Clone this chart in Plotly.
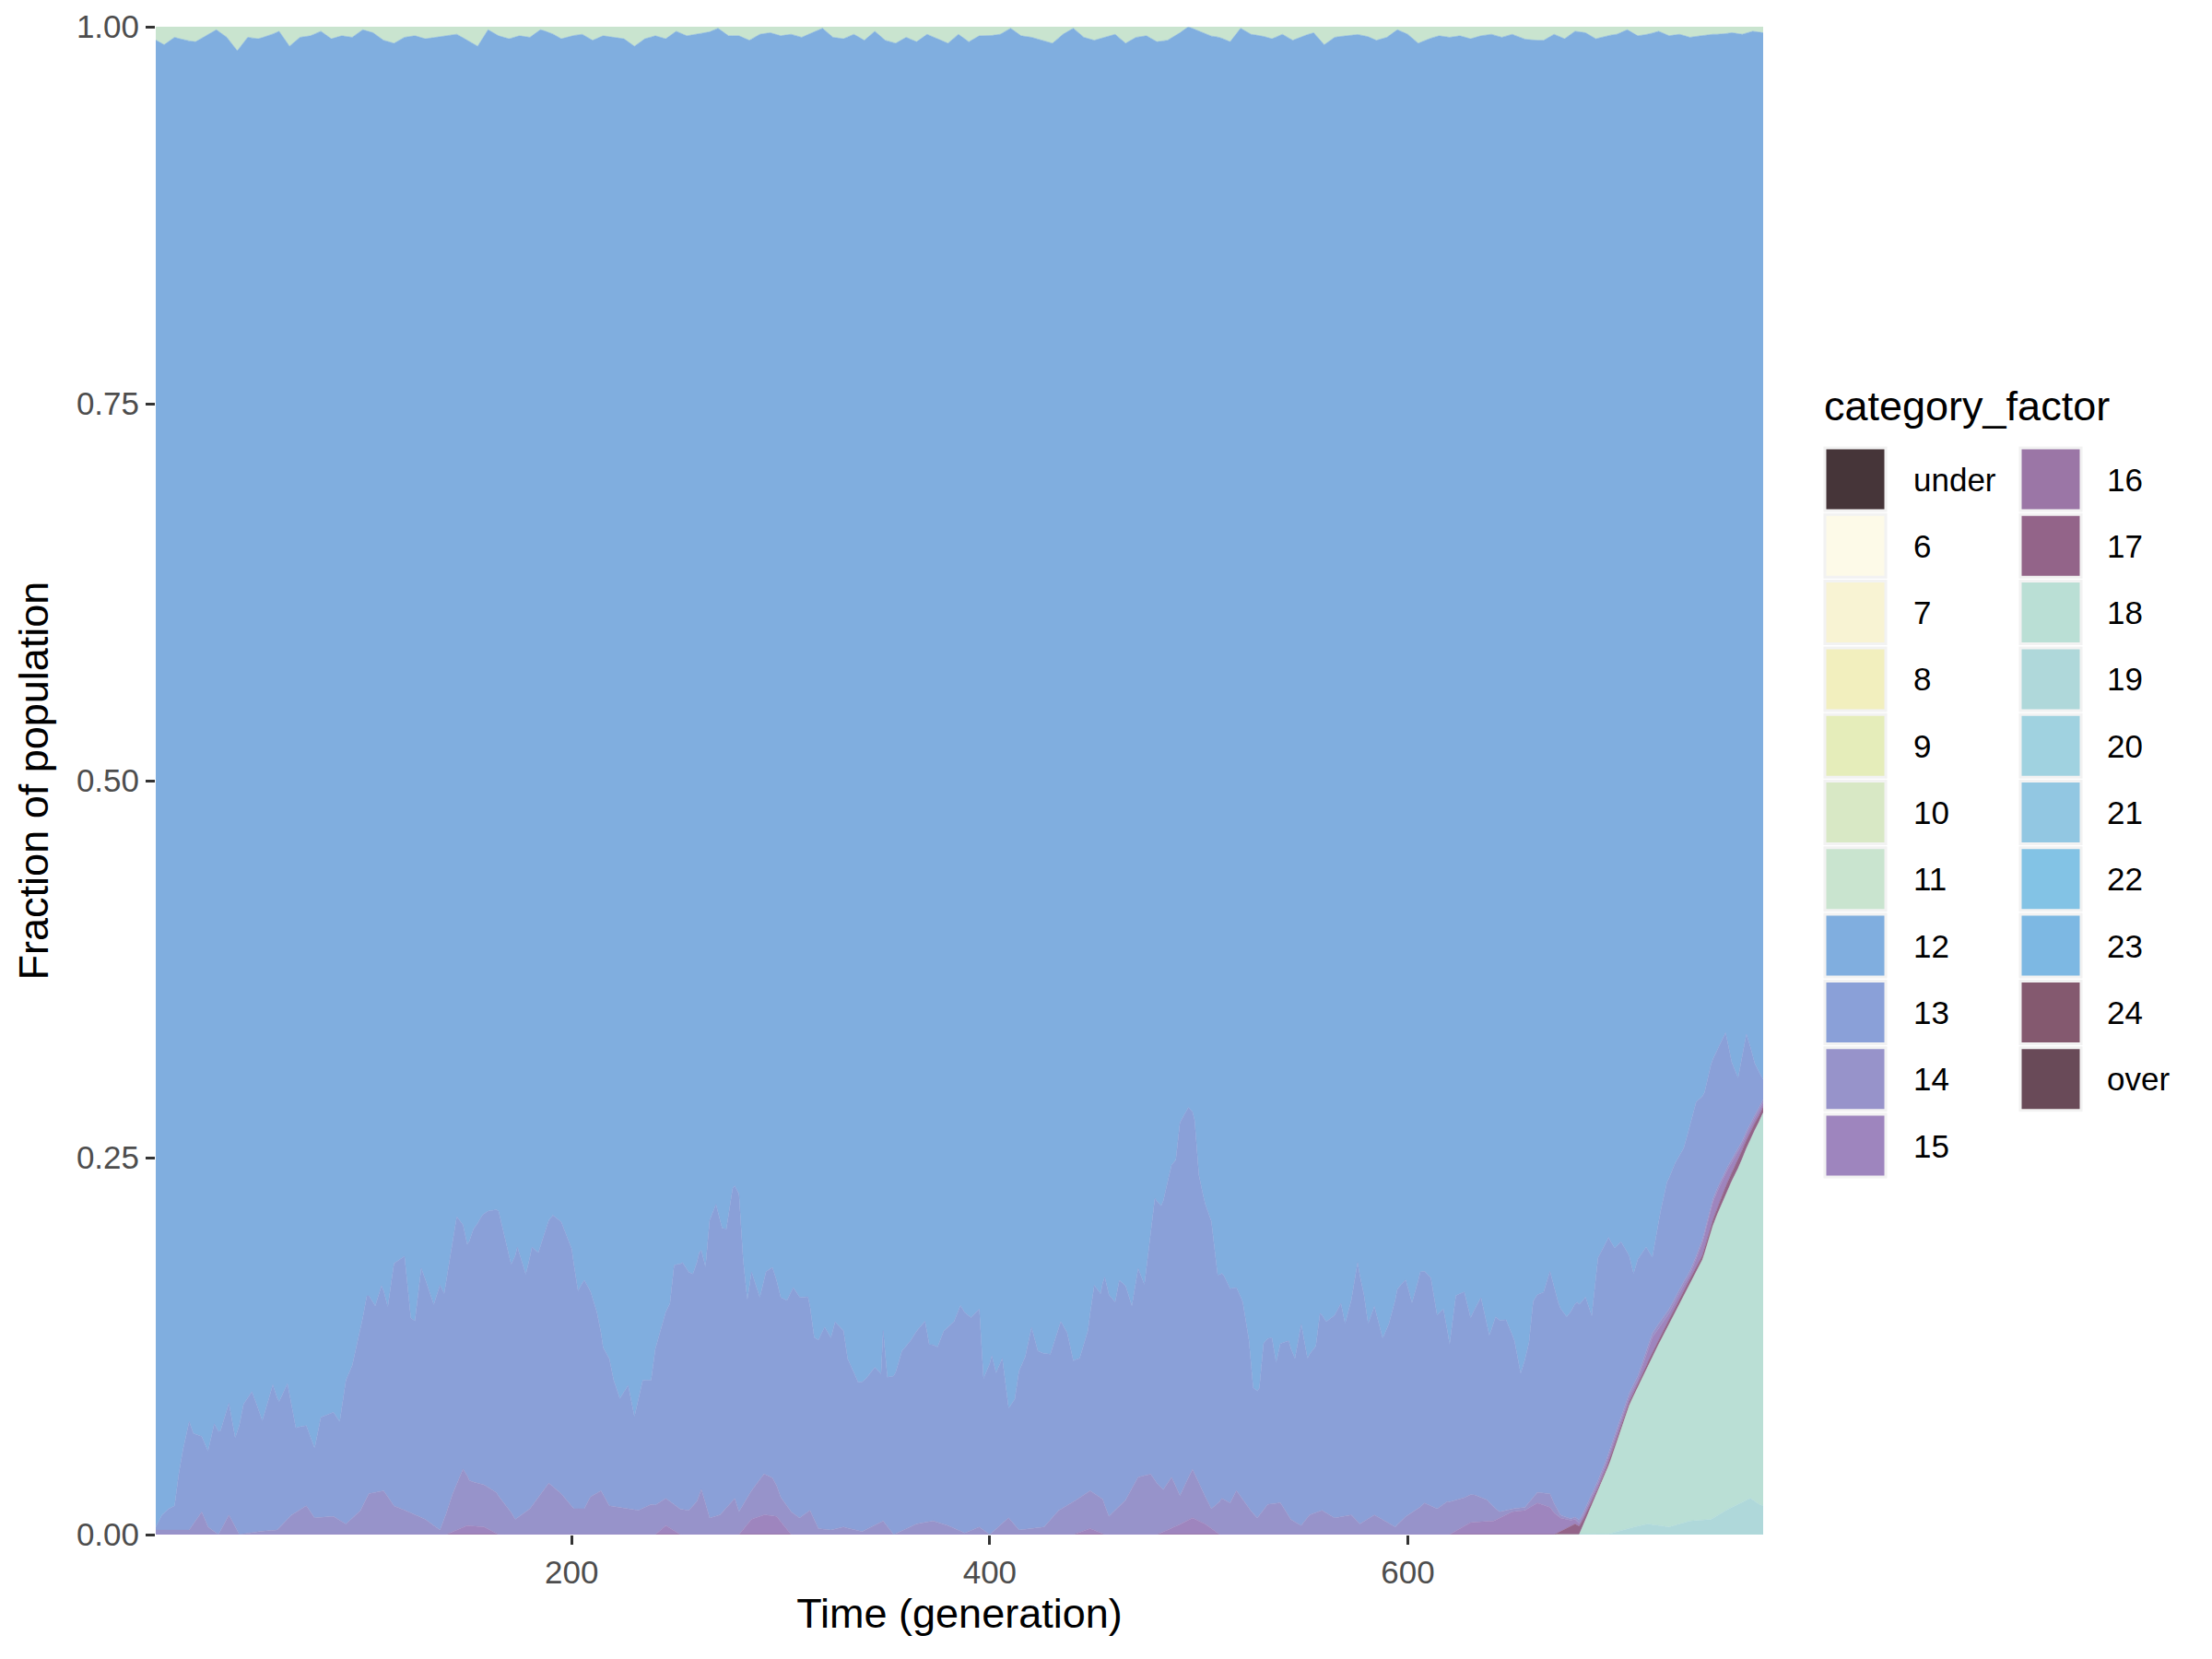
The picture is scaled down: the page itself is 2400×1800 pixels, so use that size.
import plotly.graph_objects as go

# category levels and their fill colours (legend order)
categories = ["under", "6", "7", "8", "9", "10", "11", "12", "13", "14",
              "15", "16", "17", "18", "19", "20", "21", "22", "23", "24", "over"]
colours = ["#463539", "#FDFAE8", "#F8F3D3", "#F2EFBE", "#E5EDBA", "#D8E8C5", "#C9E4CF",
           "#80AEDF", "#8AA0D8", "#9793CA", "#9E85BE", "#9B76A6", "#936489", "#BADFD5",
           "#AFD8DA", "#A0D2E0", "#92C7E2", "#83C3E5", "#7DB8E3", "#84596F", "#694A58"]

# main grid (generations) shared by categories 12 and 13
gen_main = [1, 4, 7, 10, 12, 14, 17, 19, 23, 26, 29, 32, 36, 39, 43, 47, 52, 57, 60, 64,
            68, 73, 77, 80, 86, 89, 92, 95, 99, 102, 106, 109, 112, 115, 120, 123, 125, 128, 134, 137,
            139, 145, 150, 153, 157, 165, 168, 171, 174, 178, 181, 184, 187, 191, 195, 200,
            203, 206, 209, 212, 215, 218, 220, 223, 227, 230, 234, 238, 240, 244, 247, 249, 253, 258,
            261, 264, 266, 269, 272, 274, 277, 280, 282, 284, 286, 290, 293, 296, 300, 303, 306, 309,
            313, 316, 318, 321, 324, 326, 330, 332, 337, 341, 345, 348, 349, 351, 355, 358, 362, 365,
            369, 371, 375, 378, 383, 386, 391, 395,
            396, 397, 401, 403, 406, 409, 412, 414, 417, 420, 423, 426, 429, 434, 437, 440, 443, 447,
            450, 453, 455, 460, 462, 465, 468, 471, 474, 477, 479, 482, 486, 489, 491, 495, 498, 500,
            503, 506, 509, 512, 515, 518, 521, 524, 526, 529, 531, 535, 537, 539, 543, 546, 549, 552,
            556, 558, 561, 565, 568, 570, 573, 576, 579, 581, 584, 588, 591, 595, 599, 602, 606, 611,
            614, 617, 620, 623, 627, 630, 635, 639, 642, 647, 651, 654, 658, 660, 665, 668, 672, 676,
            681, 685, 688, 691, 696, 699, 702, 706, 708, 710, 714, 717, 721, 724, 728, 732, 735, 738,
            742, 745, 748, 752, 755, 758, 762, 766, 770]

frac_13 = [0.002, 0.01, 0.014, 0.016, 0.037, 0.053, 0.072, 0.06, 0.05, 0.05,
           0.071, 0.066, 0.074, 0.059, 0.086, 0.093, 0.073, 0.096, 0.083, 0.09,
           0.056, 0.053, 0.046, 0.066, 0.069, 0.065, 0.095, 0.101, 0.119, 0.133,
           0.123, 0.136, 0.126, 0.161, 0.168, 0.129, 0.128, 0.165, 0.146, 0.162,
           0.149, 0.177, 0.154, 0.168, 0.178, 0.188, 0.176, 0.164, 0.179, 0.157,
           0.171, 0.161, 0.168, 0.179, 0.18, 0.17,
           0.144, 0.151, 0.136, 0.12, 0.097, 0.097, 0.084, 0.072, 0.082, 0.062,
           0.085, 0.082, 0.103, 0.12, 0.131, 0.158, 0.163, 0.153, 0.16, 0.156,
           0.196, 0.205, 0.187, 0.184, 0.206, 0.21, 0.162, 0.131, 0.145, 0.12,
           0.134, 0.139, 0.132, 0.136, 0.149, 0.146, 0.142, 0.12, 0.124, 0.133,
           0.127, 0.137, 0.13, 0.112, 0.098, 0.1, 0.104, 0.098, 0.126, 0.099,
           0.107, 0.119, 0.123, 0.128, 0.133, 0.117, 0.116, 0.128, 0.137, 0.149,
           0.141, 0.144,
           0.118, 0.1, 0.117, 0.103, 0.109, 0.072, 0.083, 0.105, 0.114, 0.133,
           0.117, 0.115, 0.11, 0.124, 0.114, 0.093, 0.092, 0.107, 0.138, 0.135,
           0.151, 0.137, 0.149, 0.142, 0.121, 0.138, 0.126, 0.158, 0.187, 0.187,
           0.204, 0.216, 0.246, 0.243, 0.232, 0.203, 0.193, 0.19, 0.151, 0.148,
           0.142, 0.134, 0.13, 0.111, 0.083, 0.084, 0.11, 0.11, 0.093, 0.105,
           0.116, 0.108, 0.133, 0.105, 0.11, 0.131, 0.127, 0.134, 0.141, 0.127,
           0.142, 0.171, 0.15, 0.129, 0.138, 0.12, 0.132, 0.155, 0.156, 0.139,
           0.156, 0.151, 0.128, 0.129, 0.104, 0.135, 0.136, 0.117, 0.132, 0.11,
           0.127, 0.126, 0.111, 0.089, 0.106, 0.13, 0.133, 0.147, 0.138, 0.133,
           0.143, 0.139, 0.118, 0.147, 0.143, 0.124, 0.116, 0.09, 0.073, 0.077,
           0.069, 0.05, 0.073, 0.086, 0.089, 0.088, 0.096, 0.102, 0.092, 0.093,
           0.091, 0.091, 0.064, 0.047, 0.064, 0.034, 0.013]

frac_12 = [0.985, 0.977, 0.973, 0.971, 0.95, 0.934, 0.915, 0.923, 0.925, 0.935,
           0.917, 0.922, 0.903, 0.925, 0.903, 0.895, 0.915, 0.891, 0.903, 0.89,
           0.919, 0.918, 0.933, 0.913, 0.909, 0.915, 0.888, 0.878, 0.855, 0.833,
           0.839, 0.825, 0.839, 0.81, 0.806, 0.847, 0.849, 0.814, 0.837, 0.825,
           0.831, 0.783, 0.8, 0.787, 0.779, 0.775, 0.794, 0.811, 0.8, 0.818,
           0.8, 0.804, 0.792, 0.779, 0.783, 0.802,
           0.829, 0.822, 0.829, 0.843, 0.866, 0.874, 0.888, 0.9, 0.891, 0.912,
           0.888, 0.888, 0.866, 0.847, 0.839, 0.814, 0.81, 0.818, 0.804, 0.814,
           0.783, 0.773, 0.788, 0.788, 0.761, 0.765, 0.808, 0.835, 0.816, 0.833,
           0.816, 0.814, 0.833, 0.837, 0.827, 0.833, 0.833, 0.86, 0.862, 0.853,
           0.86, 0.849, 0.855, 0.874, 0.89, 0.886, 0.88, 0.884, 0.855, 0.886,
           0.882, 0.868, 0.862, 0.855, 0.849, 0.864, 0.866, 0.855, 0.849, 0.839,
           0.845, 0.841,
           0.868, 0.886, 0.872, 0.884, 0.874, 0.907, 0.901, 0.882, 0.872, 0.853,
           0.868, 0.87, 0.87, 0.849, 0.857, 0.876, 0.874, 0.855, 0.825, 0.831,
           0.82, 0.835, 0.82, 0.825, 0.839, 0.814, 0.825, 0.792, 0.767, 0.773,
           0.754, 0.744, 0.719, 0.709, 0.716, 0.752, 0.771, 0.783, 0.818, 0.818,
           0.827, 0.827, 0.837, 0.862, 0.893, 0.894, 0.864, 0.86, 0.876, 0.864,
           0.862, 0.874, 0.851, 0.874, 0.866, 0.843, 0.849, 0.845, 0.837, 0.851,
           0.835, 0.81, 0.833, 0.851, 0.839, 0.86, 0.851, 0.829, 0.822, 0.837,
           0.816, 0.82, 0.845, 0.841, 0.864, 0.831, 0.829, 0.847, 0.833, 0.857,
           0.847, 0.849, 0.862, 0.884, 0.862, 0.835, 0.829, 0.816, 0.839, 0.849,
           0.839, 0.833, 0.845, 0.806, 0.794, 0.804, 0.8, 0.808, 0.818, 0.808,
           0.802, 0.808, 0.779, 0.759, 0.746, 0.734, 0.719, 0.705, 0.699, 0.68,
           0.67, 0.66, 0.68, 0.69, 0.66, 0.68, 0.69]

# thin band of 11 along the top, every 5 generations
gen_11 = list(range(0, 775, 5))
frac_11 = [0.008, 0.012, 0.007, 0.009, 0.01, 0.006, 0.002, 0.007, 0.016, 0.007,
           0.008, 0.006, 0.003, 0.013, 0.007, 0.006, 0.003, 0.008, 0.006, 0.007,
           0.002, 0.004, 0.009, 0.011, 0.007, 0.006, 0.008, 0.007, 0.006, 0.005,
           0.009, 0.013, 0.002, 0.006, 0.008, 0.006, 0.007, 0.002, 0.004, 0.008,
           0.006, 0.005, 0.009, 0.006, 0.007, 0.008, 0.013,
           0.008, 0.006, 0.008, 0.003, 0.006, 0.005, 0.004, 0.001, 0.006, 0.006,
           0.009, 0.005, 0.004, 0.006, 0.005, 0.007, 0.004, 0.001, 0.007, 0.008,
           0.005, 0.009, 0.003, 0.009, 0.011, 0.007, 0.01, 0.005, 0.008, 0.011,
           0.005, 0.01, 0.006, 0.006, 0.005, 0.001, 0.006, 0.007, 0.009, 0.011,
           0.005, 0.001, 0.007, 0.009, 0.007, 0.005, 0.011, 0.007, 0.006, 0.01,
           0.009, 0.005, 0.0, 0.003, 0.006, 0.007, 0.01, 0.001, 0.005, 0.006,
           0.008, 0.005, 0.009, 0.006, 0.004, 0.012, 0.007, 0.006, 0.005, 0.006,
           0.009, 0.007, 0.002, 0.005, 0.011, 0.008, 0.006, 0.007, 0.006, 0.008,
           0.006, 0.005, 0.007, 0.005, 0.008, 0.009, 0.009, 0.005, 0.008, 0.003,
           0.004, 0.008, 0.006, 0.005, 0.002, 0.006, 0.005, 0.003, 0.006, 0.005,
           0.007, 0.006, 0.005, 0.005, 0.004, 0.005, 0.003, 0.004]

gen_14 = [1, 17, 19, 23, 26, 31, 36, 41, 49, 59, 66, 73, 77, 86, 92, 99, 103, 110, 115, 122,
          130, 137, 143, 148, 151, 157, 164, 170, 173, 180, 189, 195, 201, 206, 209, 214, 218, 227,
          232, 238, 245, 250, 256, 260, 262, 266, 271, 278, 280, 286, 292, 296, 300, 305, 309, 314,
          318, 324, 330, 339, 349, 354, 365, 373, 380, 388, 395, 400, 409, 414, 426, 433, 441, 448,
          454, 457, 465, 471, 477, 483, 487, 491, 497, 502, 506, 511, 515, 518, 524, 528, 533, 539,
          544, 549, 553, 559, 565, 573, 577, 584, 589, 594, 598, 605, 608, 614, 619, 626, 632, 638,
          644, 650, 656, 662, 668, 673, 678, 682, 700, 720, 740, 770]
frac_14 = [0.003, 0.003, 0.007, 0.015, 0.005, 0.0, 0.013, 0.0, 0.002, 0.003,
           0.013, 0.019, 0.011, 0.012, 0.007, 0.016, 0.027, 0.029, 0.019, 0.015,
           0.01, 0.003, 0.025, 0.039, 0.03, 0.028, 0.027, 0.017, 0.01, 0.017,
           0.034, 0.027, 0.017, 0.017, 0.025, 0.029, 0.019, 0.017, 0.016, 0.02,
           0.018, 0.017, 0.016, 0.022, 0.03, 0.011, 0.013, 0.024, 0.015, 0.019,
           0.027, 0.025, 0.016, 0.015, 0.011, 0.016, 0.004, 0.003, 0.005, 0.002,
           0.009, 0.0, 0.007, 0.009, 0.006, 0.001, 0.005, 0.0, 0.011, 0.003,
           0.005, 0.016, 0.022, 0.025, 0.023, 0.012, 0.023, 0.038, 0.04, 0.028,
           0.034, 0.019, 0.032, 0.02, 0.013, 0.024, 0.021, 0.029, 0.017, 0.011,
           0.02, 0.021, 0.01, 0.006, 0.013, 0.016, 0.011, 0.013, 0.007, 0.013,
           0.009, 0.005, 0.011, 0.017, 0.021, 0.017, 0.022, 0.019, 0.018, 0.014,
           0.004, 0.002, 0.002, 0.007, 0.009, 0.002, 0.001, 0.002, 0.002, 0.003,
           0.002, 0.002]

gen_15 = [1, 140, 150, 158, 165, 240, 245, 252, 280, 286, 292, 298, 305, 440, 448, 455, 480, 490,
          497, 503, 510, 620, 630, 641, 650, 656, 662, 668, 673, 678, 682, 690, 700, 710, 717, 725,
          735, 745, 750, 760, 770]
frac_15 = [0, 0, 0.006, 0.005, 0, 0, 0.006, 0, 0, 0.01, 0.013, 0.012, 0, 0, 0.004, 0, 0, 0.006,
           0.011, 0.007, 0, 0, 0.008, 0.009, 0.015, 0.016, 0.021, 0.018, 0.009, 0.004, 0.002, 0.003,
           0.004, 0.003, 0.01, 0.004, 0.003, 0.012, 0.01, 0.004, 0.003]

gen_17 = [1, 670, 676, 680, 684, 690, 700, 710, 720, 730, 740, 750, 760, 770]
frac_17 = [0, 0, 0.004, 0.007, 0.004, 0.002, 0.003, 0.002, 0.003, 0.004, 0.003, 0.005, 0.006, 0.004]

gen_18 = [1, 682, 688, 697, 706, 715, 725, 734, 741, 746, 753, 759, 764, 770]
frac_18 = [0, 0, 0.019, 0.048, 0.081, 0.105, 0.134, 0.154, 0.172, 0.193, 0.211, 0.224, 0.237, 0.259]

gen_19 = [1, 695, 705, 715, 725, 735, 745, 752, 758, 764, 768, 770]
frac_19 = [0, 0, 0.004, 0.007, 0.005, 0.009, 0.01, 0.016, 0.02, 0.024, 0.02, 0.019]

assert len(gen_main) == len(frac_13) == len(frac_12)
assert len(gen_11) == len(frac_11)
assert len(gen_14) == len(frac_14) and len(gen_15) == len(frac_15)

colour_of = dict(zip(categories, colours))

# bottom of the stack first (ggplot puts the last level at the bottom)
layers = [("19", gen_19, frac_19), ("18", gen_18, frac_18), ("17", gen_17, frac_17),
          ("15", gen_15, frac_15), ("14", gen_14, frac_14), ("13", gen_main, frac_13),
          ("12", gen_main, frac_12), ("11", gen_11, frac_11)]

W, H = 2400, 1800
ML, MR, MT, MB = 161, 495, 21, 143
FONT = "Liberation Sans, Arial, Helvetica, sans-serif"

fig = go.Figure()
for name, xs, ys in layers:
    fig.add_trace(go.Scatter(
        x=xs, y=ys, name=name, mode="lines",
        line=dict(width=0.6, color=colour_of[name]),
        fillcolor=colour_of[name],
        stackgroup="one", groupnorm="fraction", stackgaps="interpolate",
        showlegend=False))

# legend drawn like ggplot's two-column key
def px_x(px):
    return (px - ML) / (W - ML - MR)

def px_y(py):
    return (H - MB - py) / (H - MT - MB)

shapes = []
annotations = [dict(x=px_x(1969), y=px_y(432), xref="paper", yref="paper",
                    text="category_factor", showarrow=False, xanchor="left", yanchor="middle",
                    font=dict(size=45, color="black", family=FONT))]
for i, (name, col) in enumerate(zip(categories, colours)):
    c, r = divmod(i, 11)
    kx = 1972 if c == 0 else 2184
    lx = 2066 if c == 0 else 2276
    yc = 512 + 72.3 * r
    shapes.append(dict(type="rect", xref="paper", yref="paper",
                       x0=px_x(kx), x1=px_x(kx + 66), y0=px_y(yc + 34), y1=px_y(yc - 34),
                       fillcolor=col, line=dict(color="#F2F2F2", width=3), layer="above"))
    annotations.append(dict(x=px_x(lx), y=px_y(yc), xref="paper", yref="paper", text=name,
                            showarrow=False, xanchor="left", yanchor="middle",
                            font=dict(size=35, color="black", family=FONT)))

axis_style = dict(showgrid=False, zeroline=False, showline=False, ticks="outside",
                  ticklen=10, tickwidth=2.5, tickcolor="#333333", ticklabeloverflow="allow",
                  automargin=False, tickfont=dict(size=35, color="#4D4D4D", family=FONT))

fig.update_xaxes(range=[1, 770], tickvals=[200, 400, 600], **axis_style,
                 title=dict(text="Time (generation)", font=dict(size=45, color="black", family=FONT),
                            standoff=8))
fig.update_yaxes(range=[0, 1], tickvals=[0, 0.25, 0.5, 0.75, 1], tickformat=".2f", **axis_style,
                 title=dict(text="Fraction of population", font=dict(size=45, color="black", family=FONT),
                            standoff=16))
fig.update_layout(width=W, height=H, margin=dict(l=ML, r=MR, t=MT, b=MB, autoexpand=False),
                  plot_bgcolor="white", paper_bgcolor="white",
                  shapes=shapes, annotations=annotations, font=dict(family=FONT))

fig.write_html("out.html")
